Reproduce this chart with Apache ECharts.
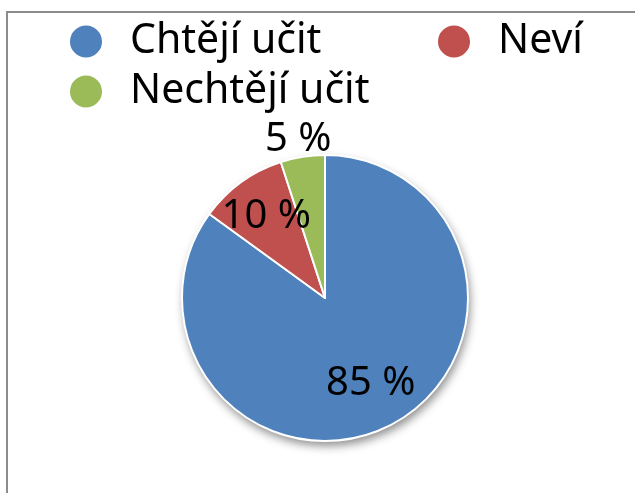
<!DOCTYPE html>
<html>
<head>
<meta charset="utf-8">
<script src="https://cdn.jsdelivr.net/npm/echarts@6/dist/echarts.min.js"></script>
<style>
  html, body { margin: 0; padding: 0; background: #fff; }
  #main { width: 635px; height: 493px; }
</style>
</head>
<body>
<div id="main"></div>
<script>
var categories = ['Chtějí učit', 'Neví', 'Nechtějí učit'];
var values = [85, 10, 5];
var colors = ['#4F81BD', '#C0504D', '#9BBB59'];
// label nudges from the 'inside' anchor, to sit where the original has them
var labelOffsets = [[12, 19], [-15, -21], [-15, -85]];

var font = '"Noto Sans", sans-serif';
var total = values.reduce(function (a, b) { return a + b; }, 0);

var pieData = categories.map(function (name, i) {
    return {
        name: name,
        value: values[i],
        itemStyle: { color: colors[i] },
        label: { offset: labelOffsets[i] }
    };
});

function legendAt(names, left, top) {
    return {
        data: names,
        left: left,
        top: top,
        padding: 0,
        orient: 'horizontal',
        icon: 'circle',
        itemWidth: 34,
        itemHeight: 34,
        selectedMode: false,
        textStyle: {
            fontFamily: font,
            fontSize: 41,
            color: '#000',
            padding: [0, 0, 0, 22]
        }
    };
}

var myChart = echarts.init(document.getElementById('main'));
myChart.setOption({
    animation: false,
    color: colors,
    legend: [
        legendAt([categories[0]], 68, 21),
        legendAt([categories[1]], 436, 21),
        legendAt([categories[2]], 68, 71)
    ],
    graphic: [{
        type: 'rect',
        shape: { x: 7, y: 12, width: 800, height: 700 },
        style: { fill: 'none', stroke: '#8c8c8c', lineWidth: 2 },
        silent: true
    }],
    series: [{
        // only casts the drop shadow under the whole pie
        type: 'pie',
        silent: true,
        center: [325, 298],
        radius: 143,
        label: { show: false },
        labelLine: { show: false },
        data: [{ value: total, name: '', itemStyle: { color: '#4F81BD' } }],
        itemStyle: {
            shadowBlur: 10,
            shadowOffsetX: 2,
            shadowOffsetY: 5,
            shadowColor: 'rgba(0,0,0,0.45)'
        },
        z: 1
    }, {
        type: 'pie',
        center: [325, 298],
        radius: 143,
        startAngle: 90,
        clockwise: true,
        itemStyle: { borderColor: '#fff', borderWidth: 2 },
        label: {
            show: true,
            position: 'inside',
            formatter: '{c} %',
            fontFamily: font,
            fontSize: 40,
            color: '#000'
        },
        labelLine: { show: false },
        emphasis: { disabled: true },
        data: pieData,
        z: 2
    }]
});
</script>
</body>
</html>
